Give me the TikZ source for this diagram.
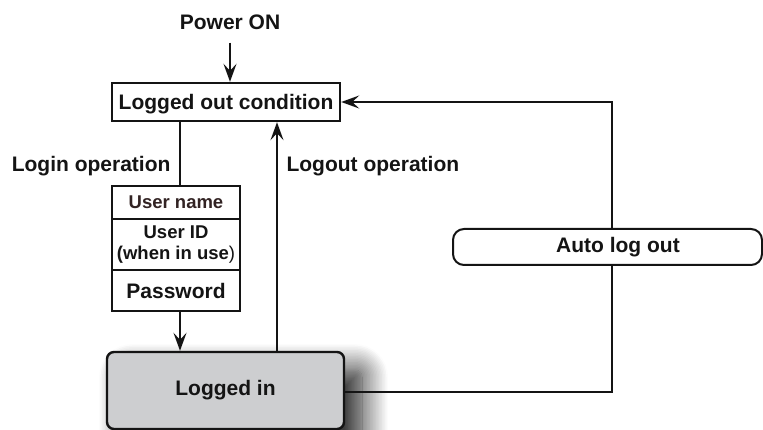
\documentclass[tikz,border=0pt]{standalone}
\usepackage{fontspec}
\setmainfont{Liberation Sans}
\usetikzlibrary{arrows.meta,shadows.blur}
\definecolor{boxgray}{RGB}{205,206,208}
\definecolor{ink}{RGB}{20,20,20}
\definecolor{namebrown}{RGB}{50,35,35}
\begin{document}
\begin{tikzpicture}[x=1pt,y=-1pt,
  every node/.style={font=\fontsize{21}{24}\selectfont\bfseries, text=ink},
  plain/.style={draw=ink, line width=2.4pt, fill=white, inner sep=0pt},
  conn/.style={draw=ink, line width=2pt},
  arr/.style={conn, -{Stealth[length=18pt,width=13pt,inset=7pt]}},
]
\useasboundingbox (0,0) rectangle (763,430);
\node[anchor=base] (pw) at (230,30) {Power ON};
\node[plain, minimum width=228pt, minimum height=38pt, text depth=0pt] (out) at (226,102) {Logged out condition};
\node[anchor=base east] (lo) at (174,172) {Login operation};
\node[anchor=base west] (lg) at (283,172) {Logout operation};
\node[plain, minimum width=128pt, minimum height=33pt, font=\fontsize{18.5}{20}\selectfont\bfseries, text=namebrown] (name) at (176,202.5) {User name};
\node[plain, minimum width=128pt, minimum height=51pt, align=center, font=\fontsize{18.5}{21}\selectfont\bfseries] (uid) at (176,244.5) {User ID\\(when in use\textmd{)}};
\node[plain, minimum width=128pt, minimum height=41pt] (pwd) at (176,290.5) {Password};
\node[draw=ink, line width=2.4pt, fill=boxgray, rounded corners=7pt, minimum width=237pt, minimum height=77pt,
  blur shadow={shadow xshift=18pt, shadow yshift=-18pt, shadow blur radius=26pt, shadow blur steps=18, shadow opacity=90}] (in) at (225.5,390.5) {Logged in};
\coordinate (lx) at (180,0);
\coordinate (gx) at (277,0);
\coordinate (turn) at (612,102);
\draw[arr] ([yshift=-9pt]pw.south) -- (pw.south |- out.north);
\draw[conn] (out.south -| lx) -- (name.north -| lx);
\draw[arr] (pwd.south -| lx) -- (in.north -| lx);
\draw[arr] (in.north -| gx) -- (out.south -| gx);
\draw[arr] ([yshift=-1.5pt]in.east) -| (turn) -- (out.east);
\node[draw=ink, line width=2pt, fill=white, rounded corners=11pt, minimum width=309pt, minimum height=36pt] (auto) at (607.5,247) {\hspace{21pt}Auto log out};
\end{tikzpicture}
\end{document}
